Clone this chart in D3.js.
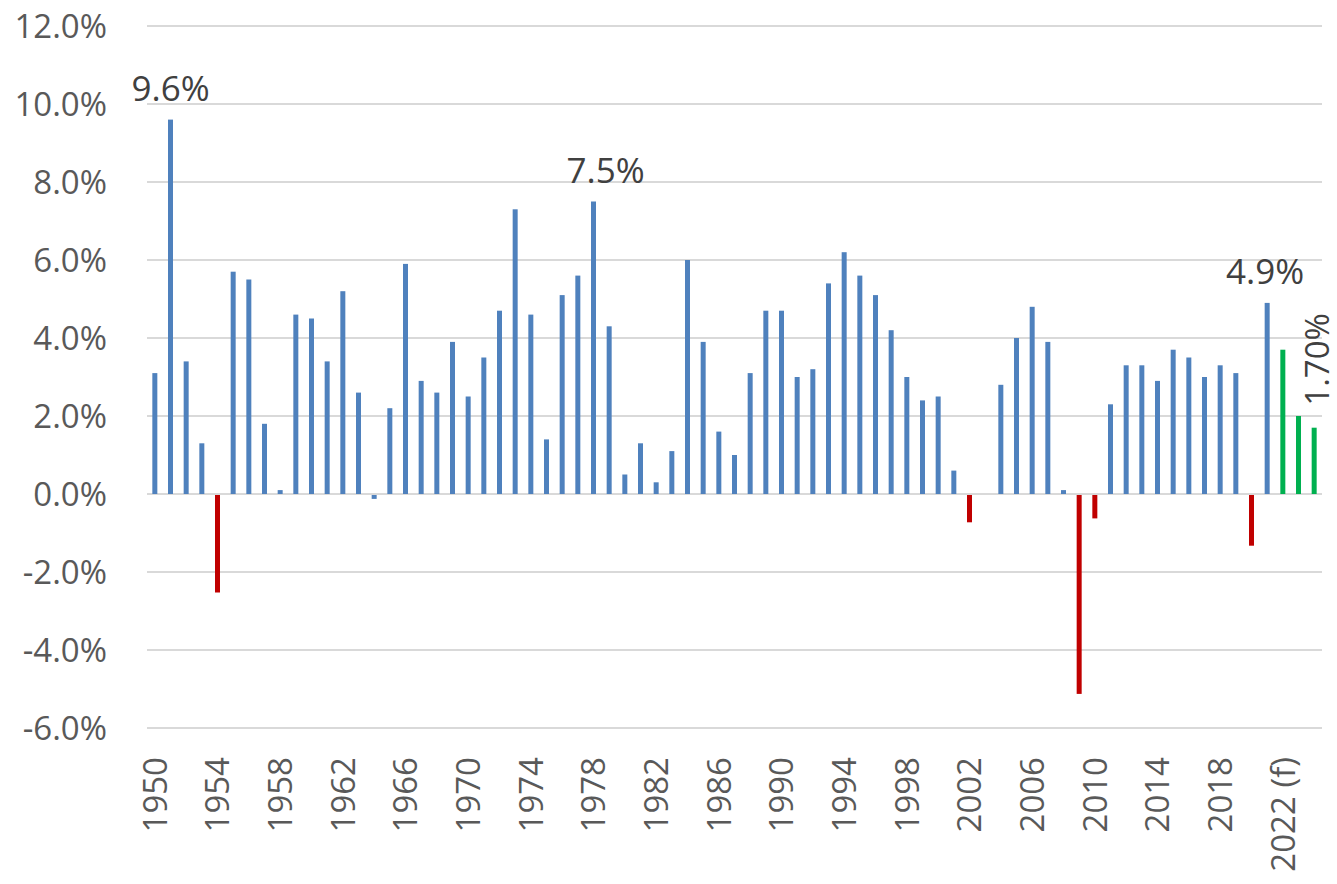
<!DOCTYPE html>
<html><head><meta charset="utf-8">
<script src="https://cdn.jsdelivr.net/npm/d3@7"></script>
<style>body{margin:0;background:#fff;} text{font-family:"Open Sans","Segoe UI",sans-serif;}</style>
</head><body><svg id="c" width="1337" height="884"></svg>
<script>
const years = d3.range(1950, 2025);
const values = [3.1,9.6,3.4,1.3,-2.5,5.7,5.5,1.8,0.1,4.6,
  4.5,3.4,5.2,2.6,-0.1,2.2,5.9,2.9,2.6,3.9,
  2.5,3.5,4.7,7.3,4.6,1.4,5.1,5.6,7.5,4.3,
  0.5,1.3,0.3,1.1,6.0,3.9,1.6,1.0,3.1,4.7,
  4.7,3.0,3.2,5.4,6.2,5.6,5.1,4.2,3.0,2.4,
  2.5,0.6,-0.7,0,2.8,4.0,4.8,3.9,0.1,-5.1,
  -0.6,2.3,3.3,3.3,2.9,3.7,3.5,3.0,3.3,3.1,
  -1.3,4.9,3.7,2.0,1.7];
const forecastYears = [2022, 2023, 2024];
const redYears = [1954, 2002, 2009, 2010, 2020];
const yTicks = [-6,-4,-2,0,2,4,6,8,10,12];
const xTickYears = d3.range(1950, 2023, 4);
const annotations = [
  {year:1951, text:"9.6%", dx:0},
  {year:1978, text:"7.5%", dx:12},
  {year:2021, text:"4.9%", dx:-2}
];
const rotatedAnnotation = {year:2024, text:"1.70%"};

const data = years.map((y,i)=>({year:y, value:values[i]}));
const svg = d3.select("#c");
const x = d3.scaleBand().domain(years).range([147,1322]);
const y = d3.scaleLinear().domain([-6,12]).range([728,26]);
const barW = 5;

svg.append("g").selectAll("line").data(yTicks).join("line")
  .attr("x1",147).attr("x2",1322)
  .attr("y1",d=>y(d)).attr("y2",d=>y(d))
  .attr("stroke","#d9d9d9").attr("stroke-width",2);

svg.append("g").selectAll("text").data(yTicks).join("text")
  .attr("x",107).attr("y",d=>y(d)).attr("dy","0.35em")
  .attr("text-anchor","end").attr("font-size",33).attr("fill","#595959")
  .text(d=>(d<0?"-":"")+Math.abs(d).toFixed(1)+"%");

const color = d => forecastYears.includes(d.year) ? "#00b050" : (redYears.includes(d.year) ? "#c00000" : "#4f81bd");
svg.append("g").selectAll("rect").data(data).join("rect")
  .attr("x",d=>x(d.year)+x.bandwidth()/2-barW/2)
  .attr("width",barW)
  .attr("y",d=>d.value>=0 ? y(d.value) : y(0)+1)
  .attr("height",d=>Math.abs(y(d.value)-y(0)))
  .attr("fill",color);

svg.append("g").selectAll("text").data(xTickYears).join("text")
  .attr("transform",d=>`translate(${x(d)+x.bandwidth()/2},${757}) rotate(-90)`)
  .attr("dy","0.36em").attr("text-anchor","end")
  .attr("font-size",33).attr("fill","#595959")
  .text(d=>d===2022 ? "2022 (f)" : String(d));

const val = yr => values[years.indexOf(yr)];
svg.append("g").selectAll("text").data(annotations).join("text")
  .attr("x",d=>x(d.year)+x.bandwidth()/2+d.dx)
  .attr("y",d=>y(val(d.year))-19)
  .attr("text-anchor","middle").attr("font-size",35).attr("fill","#404040")
  .text(d=>d.text);

svg.append("text")
  .attr("transform",`translate(${x(rotatedAnnotation.year)+x.bandwidth()/2+3},${y(val(rotatedAnnotation.year))-22}) rotate(-90)`)
  .attr("dy","0.36em").attr("text-anchor","start")
  .attr("font-size",33).attr("fill","#404040")
  .text(rotatedAnnotation.text);
</script></body></html>
